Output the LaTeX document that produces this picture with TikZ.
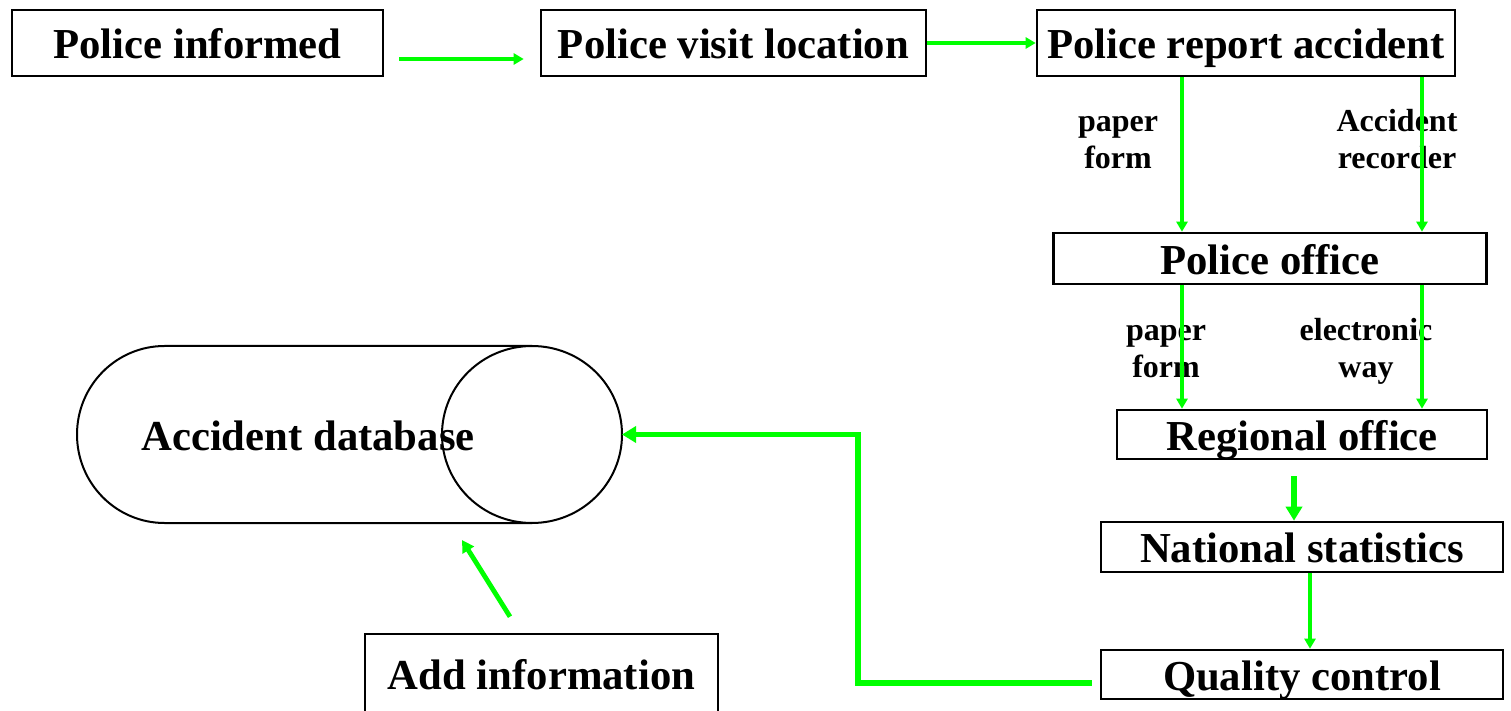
\documentclass[tikz,border=0pt]{standalone}
\usepackage{fontspec}
\setmainfont{Liberation Serif}
\usetikzlibrary{arrows.meta}
\definecolor{flowgreen}{RGB}{0,255,0}
\begin{document}
\begin{tikzpicture}[x=0.5pt,y=-0.5pt,
  box/.style={draw, line width=1.3pt, inner sep=0pt, text height=15.8pt, text depth=0pt,
    font=\fontsize{21.35}{25}\selectfont\bfseries},
  plain/.style={inner sep=0pt, text height=15.8pt, text depth=0pt,
    font=\fontsize{21.35}{25}\selectfont\bfseries},
  lbl/.style={font=\fontsize{16}{18.5}\selectfont\bfseries, align=center, anchor=base, inner sep=0pt},
  arr/.style={color=flowgreen, line width=2pt, -{Triangle[length=5pt,width=5.5pt]}},
  bigarr/.style={color=flowgreen, line width=2.75pt, -{Triangle[length=7pt,width=8pt]}},
  shapeline/.style={draw, line width=1pt},
]
\useasboundingbox (0,0) rectangle (1511,711);

% boxes
\node[box, minimum width=185.5pt, minimum height=33pt] (pi) at (197.5,43) {Police informed};
\node[box, minimum width=192.5pt, minimum height=33pt] (pvl) at (733.5,43) {Police visit location\hspace{8.5pt}};
\node[box, minimum width=209pt, minimum height=33pt] (pra) at (1246,43) {Police report accident};
\node[box, minimum width=216.75pt, minimum height=25.5pt] (po) at (1270,258.5) {Police office};
\node[box, minimum width=185pt, minimum height=24.5pt] (ro) at (1302,434.5) {Regional office};
\node[box, minimum width=201pt, minimum height=25pt] (ns) at (1302,547) {National statistics};
\node[box, minimum width=201pt, minimum height=24.5pt] (qc) at (1302,674.5) {Quality control};
\node[box, minimum width=176.5pt, minimum height=40pt] (ai) at (541.5,674) {Add information};

% database drum
\draw[shapeline] (532,346) -- (164.5,346) arc[start angle=270, end angle=90, x radius=87.5, y radius=88.5] -- (532,523);
\draw[shapeline] (532,434.5) ellipse [x radius=90, y radius=88.5];
\node[plain] (db) at (308,434.5) {Accident database};
\coordinate (dbr) at (622,434.5);
\coordinate (dbb) at (462,540);
\coordinate (corner) at (858,434.5);

% labels
\node[lbl] (l1) at (1118,169) {paper\\form};
\node[lbl] (l2) at (1397,169) {Accident\\recorder};
\node[lbl] (l3) at (1166,378) {paper\\form};
\node[lbl] (l4) at (1366,378) {electronic\\way};

% connectors
\draw[arr] ([yshift=-8pt,xshift=7.5pt]pi.east) -- ([yshift=-8pt,xshift=-8pt]pvl.west);
\draw[arr] (pvl.east) -- (pra.west);
\draw[arr] (1182,0 |- pra.south) -- (1182,0 |- po.north);
\draw[arr] (1422,0 |- pra.south) -- (1422,0 |- po.north);
\draw[arr] (1182,0 |- po.south) -- (1182,0 |- ro.north);
\draw[arr] (1422,0 |- po.south) -- (1422,0 |- ro.north);
\draw[bigarr, shorten <=8pt] (1294,0 |- ro.south) -- (1294,0 |- ns.north);
\draw[arr] (1310,0 |- ns.south) -- (1310,0 |- qc.north);
\draw[bigarr] ([xshift=-4pt,yshift=-4.25pt]qc.west) -| (corner) -- (dbr);
\draw[arr, line width=2.4pt, -{Triangle[length=6pt,width=6.5pt]}] ([shift={(-15.75pt,8pt)}]ai.north) -- (dbb);
\end{tikzpicture}
\end{document}
